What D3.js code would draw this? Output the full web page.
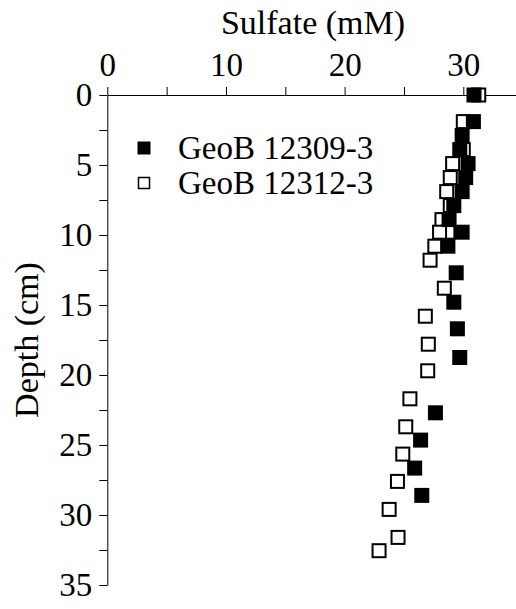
<!DOCTYPE html>
<html>
<head>
<meta charset="utf-8">
<script src="https://cdn.jsdelivr.net/npm/d3@7"></script>
<style>
    html, body { margin: 0; padding: 0; background: #fff; }
    .axis path, .axis line { stroke: #000; stroke-width: 1; }
</style>
</head>
<body>
<svg id="chart" width="516" height="609"></svg>
<script>
// GeoB 12309-3 (filled squares)
const depthA = [0, 1.9, 2.9, 3.9, 4.9, 5.9, 6.9, 7.9, 8.9, 9.8, 10.8, 12.7, 14.8, 16.7, 18.75, 22.7, 24.65, 26.65, 28.6];
const sulfateA = [30.9, 30.85, 29.9, 29.7, 30.4, 30.2, 29.9, 29.2, 28.8, 29.9, 28.7, 29.4, 29.2, 29.5, 29.7, 27.65, 26.4, 25.9, 26.5];

// GeoB 12312-3 (open squares)
const depthB = [0, 1.9, 3.9, 4.9, 5.9, 6.9, 7.9, 8.9, 9.8, 9.8, 10.8, 11.8, 13.8, 15.8, 17.8, 19.7, 21.7, 23.7, 25.65, 27.6, 29.6, 31.6, 32.55];
const sulfateB = [31.3, 30.0, 30.0, 29.1, 28.9, 28.6, 28.9, 28.2, 28.7, 28.0, 27.6, 27.2, 28.4, 26.8, 27.05, 27.0, 25.5, 25.15, 24.9, 24.45, 23.75, 24.5, 22.9];

const seriesNames = ["GeoB 12309-3", "GeoB 12312-3"];
const xTicks = [0, 5, 10, 15, 20, 25, 30, 35];
const yTicks = [0, 2.5, 5, 7.5, 10, 12.5, 15, 17.5, 20, 22.5, 25, 27.5, 30, 32.5, 35];

const FONT = "'Liberation Serif'";

const svg = d3.select("#chart").style("font-family", FONT);

const x = d3.scaleLinear().domain([0, 35]).range([107.3, 107.3 + 35 * 11.867]);
const y = d3.scaleLinear().domain([0, 35]).range([95, 585]);

// top x axis
const xAxis = svg.append("g")
    .attr("class", "axis")
    .attr("transform", `translate(0,${y(0)})`)
    .call(d3.axisTop(x)
        .tickValues(xTicks)
        .tickSize(8)
        .tickSizeOuter(0)
        .tickPadding(11)
        .tickFormat(d => (d % 10 === 0 && d <= 30) ? d : ""));

// left y axis
const yAxis = svg.append("g")
    .attr("class", "axis")
    .attr("transform", `translate(${x(0)},0)`)
    .call(d3.axisLeft(y)
        .tickValues(yTicks)
        .tickSize(8)
        .tickSizeOuter(0)
        .tickPadding(7)
        .tickFormat(d => d % 5 === 0 ? d : ""));

svg.selectAll(".axis")
    .attr("font-family", null)
    .attr("font-size", null);
svg.selectAll(".axis text")
    .style("font-family", FONT)
    .style("font-size", "33px")
    .attr("fill", "#000");
svg.selectAll(".axis .domain").attr("fill", "none");

// titles
svg.append("text")
    .attr("x", 313)
    .attr("y", 34)
    .attr("text-anchor", "middle")
    .style("font-family", FONT)
    .style("font-size", "34px")
    .text("Sulfate (mM)");

svg.append("text")
    .attr("transform", "translate(38,340) rotate(-90)")
    .attr("text-anchor", "middle")
    .style("font-family", FONT)
    .style("font-size", "34px")
    .text("Depth (cm)");

// data
const dataA = depthA.map((d, i) => ({ depth: d, value: sulfateA[i] }));
const dataB = depthB.map((d, i) => ({ depth: d, value: sulfateB[i] }));

const size = 15;

svg.append("g")
    .selectAll("rect")
    .data(dataB)
    .join("rect")
    .attr("x", d => x(d.value) - (size - 2) / 2)
    .attr("y", d => y(d.depth) - (size - 2) / 2)
    .attr("width", size - 2)
    .attr("height", size - 2)
    .attr("fill", "#fff")
    .attr("stroke", "#000")
    .attr("stroke-width", 2);

svg.append("g")
    .selectAll("rect")
    .data(dataA)
    .join("rect")
    .attr("x", d => x(d.value) - size / 2)
    .attr("y", d => y(d.depth) - size / 2)
    .attr("width", size)
    .attr("height", size)
    .attr("fill", "#000");

// legend
const legend = svg.append("g").attr("transform", "translate(144,148)");
seriesNames.forEach((name, i) => {
    const g = legend.append("g").attr("transform", `translate(0,${i * 35})`);
    if (i === 0) {
        g.append("rect").attr("x", -6.5).attr("y", -6.5).attr("width", 13).attr("height", 13).attr("fill", "#000");
    } else {
        g.append("rect").attr("x", -5.5).attr("y", -5.5).attr("width", 11).attr("height", 11)
            .attr("fill", "#fff").attr("stroke", "#000").attr("stroke-width", 1.5);
    }
    g.append("text")
        .attr("x", 34)
        .attr("y", 11)
        .style("font-family", FONT)
        .style("font-size", "33px")
        .text(name);
});
</script>
</body>
</html>
